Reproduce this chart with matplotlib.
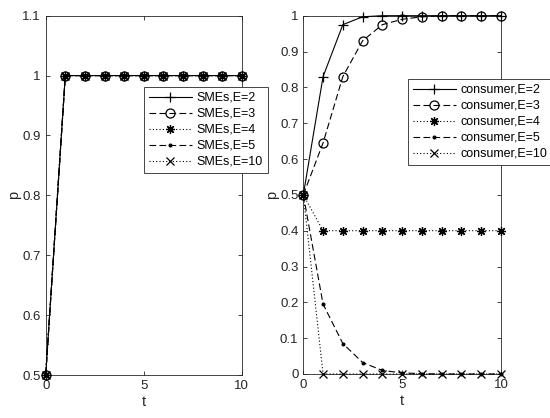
import matplotlib
matplotlib.use("Agg")
import matplotlib.pyplot as plt
import numpy as np

plt.rcParams['font.family'] = ['Liberation Sans', 'DejaVu Sans']

t = list(range(11))
E_labels = ["E=2", "E=3", "E=4", "E=5", "E=10"]

sme_E2 = [0.5, 1, 1, 1, 1, 1, 1, 1, 1, 1, 1]
sme_E3 = [0.5, 1, 1, 1, 1, 1, 1, 1, 1, 1, 1]
sme_E4 = [0.5, 1, 1, 1, 1, 1, 1, 1, 1, 1, 1]
sme_E5 = [0.5, 1, 1, 1, 1, 1, 1, 1, 1, 1, 1]
sme_E10 = [0.5, 1, 1, 1, 1, 1, 1, 1, 1, 1, 1]

con_E2 = [0.5, 0.83, 0.975, 0.997, 1, 1, 1, 1, 1, 1, 1]
con_E3 = [0.5, 0.645, 0.83, 0.93, 0.975, 0.99, 0.997, 1, 1, 1, 1]
con_E4 = [0.5, 0.4, 0.4, 0.4, 0.4, 0.4, 0.4, 0.4, 0.4, 0.4, 0.4]
con_E5 = [0.5, 0.195, 0.085, 0.032, 0.01, 0.003, 0.001, 0, 0, 0, 0]
con_E10 = [0.5, 0, 0, 0, 0, 0, 0, 0, 0, 0, 0]

styles = [
    dict(ls='-', marker='+', ms=7),
    dict(ls=(0, (6, 3)), marker='o', mfc='none', ms=6.5),
    dict(ls=(0, (1, 2)), marker=(8, 2, 0), ms=6.5),
    dict(ls=(0, (6, 3)), marker='.', ms=4),
    dict(ls=(0, (1, 2)), marker='x', ms=5.5),
]

axcol = '#262626'
fig = plt.figure(figsize=(5.5, 4.18), dpi=100)
W, H = 550, 418
ax1 = fig.add_axes([45.7/W, 1-375/H, (241.7-45.7)/W, (375-15.7)/H])
ax2 = fig.add_axes([303.3/W, 1-374/H, (501-303.3)/W, (374-15.7)/H])

def draw(ax, series, prefix):
    for s, lab, st in zip(series, E_labels, styles):
        ax.plot(t, s, color='black', lw=0.8, ls=st['ls'], marker=st['marker'],
                ms=st['ms'], mfc=st.get('mfc', 'black'), mec='black', mew=0.9,
                label=prefix + "," + lab, clip_on=False, zorder=3)
    ax.set_xlim(0, 10)
    ax.set_xticks([0, 5, 10])
    ax.tick_params(direction='in', length=3, labelsize=9.5, top=True, right=True,
                   labeltop=False, labelright=False, width=0.6, color=axcol,
                   labelcolor=axcol)
    ax.set_xlabel('t', fontsize=10.5, labelpad=2, color=axcol)
    ax.set_ylabel('p', fontsize=10.5, labelpad=1, color=axcol)
    for sp in ax.spines.values():
        sp.set_linewidth(0.6)
        sp.set_color(axcol)

draw(ax1, [sme_E2, sme_E3, sme_E4, sme_E5, sme_E10], "SMEs")
ax1.set_ylim(0.5, 1.1)
ax1.set_yticks([0.5, 0.6, 0.7, 0.8, 0.9, 1.0, 1.1])
ax1.set_yticklabels(['0.5', '0.6', '0.7', '0.8', '0.9', '1', '1.1'])

draw(ax2, [con_E2, con_E3, con_E4, con_E5, con_E10], "consumer")
ax2.set_ylim(0, 1)
ax2.set_yticks(np.arange(0, 1.01, 0.1))
ax2.set_yticklabels(['0', '0.1', '0.2', '0.3', '0.4', '0.5', '0.6', '0.7', '0.8', '0.9', '1'])

leg_kw = dict(loc='upper left', fontsize=9, frameon=True, fancybox=False,
              edgecolor=axcol, framealpha=1, borderpad=0.4, labelspacing=0.32,
              handlelength=3.4, handletextpad=0.4, borderaxespad=0)
l1 = ax1.legend(bbox_to_anchor=(144/W, 1-87/H), bbox_transform=fig.transFigure, **leg_kw)
l2 = ax2.legend(bbox_to_anchor=(408/W, 1-79/H), bbox_transform=fig.transFigure, **leg_kw)
for l in (l1, l2):
    l.get_frame().set_linewidth(0.6)
    l.set_zorder(5)

fig.savefig('out.png', dpi=100)
